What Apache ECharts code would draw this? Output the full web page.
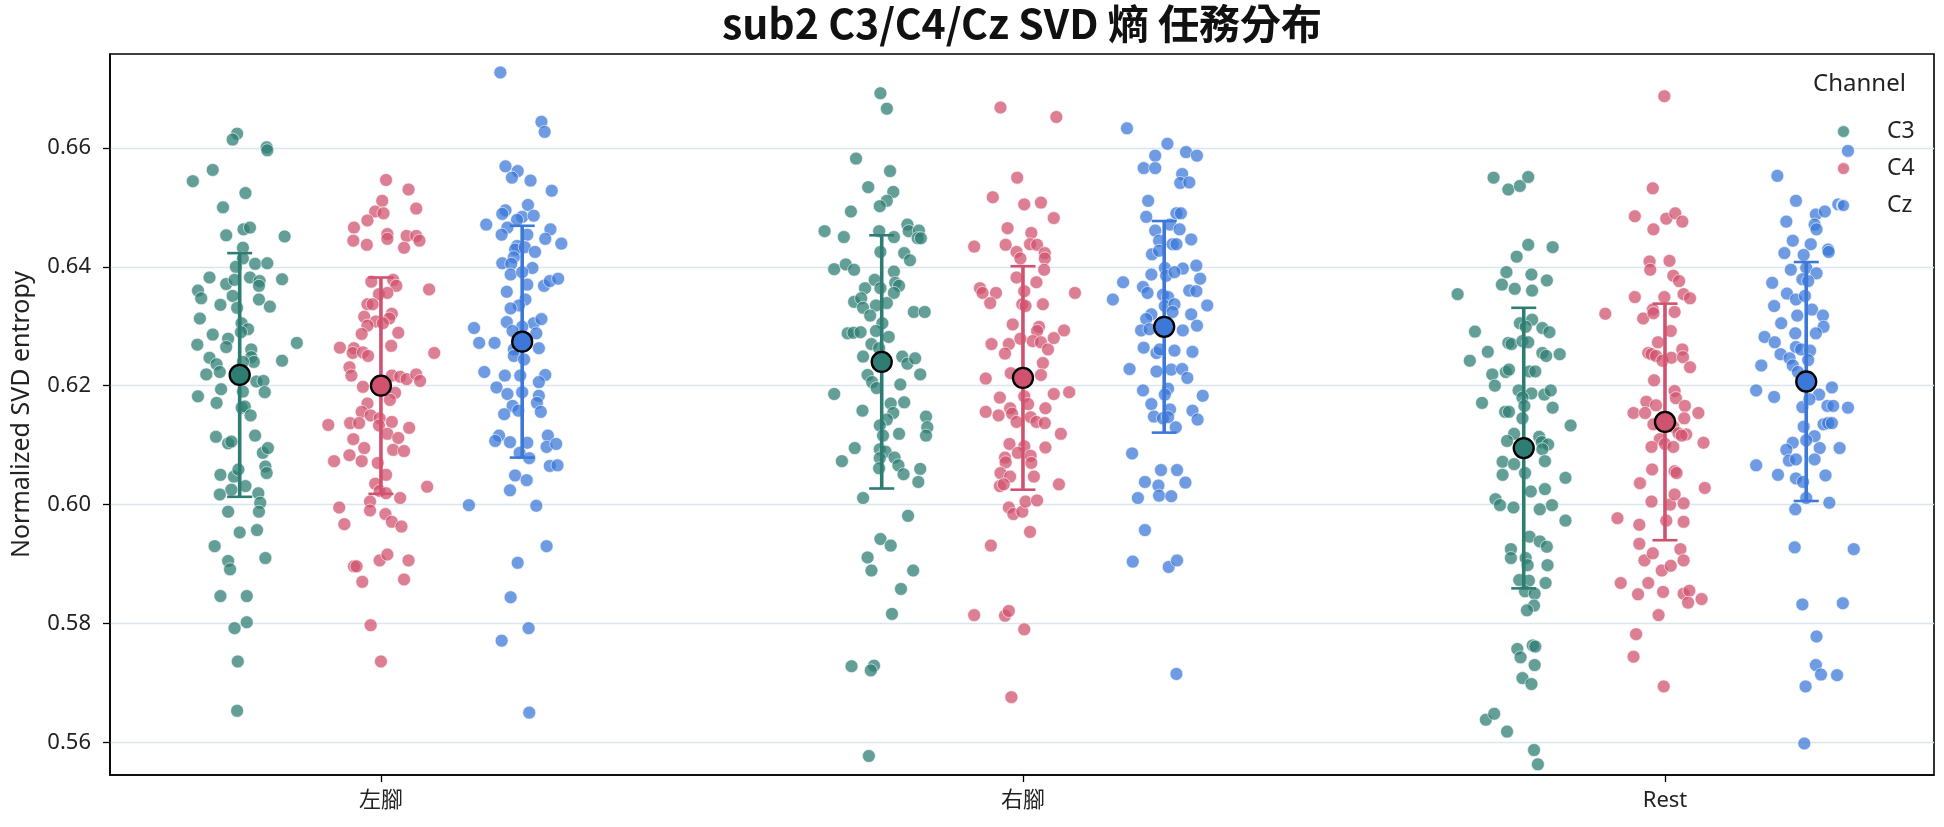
<!DOCTYPE html>
<html>
<head>
<meta charset="utf-8">
<script src="https://cdn.jsdelivr.net/npm/echarts@6.0.0/dist/echarts.min.js"></script>
<style>
  html, body { margin: 0; padding: 0; background: #fff; }
  #chart { width: 1944px; height: 827px; }
</style>
</head>
<body>
<div id="chart"></div>
<script>
// categories / channels
var categories = ['左腳', '右腳', 'Rest'];
var channels = ['C3', 'C4', 'Cz'];
var yTicks = [0.56, 0.58, 0.60, 0.62, 0.64, 0.66];

// strip points: [jitter, value]
var leftC3 = [[-0.004,0.6624],[-0.011,0.6614],[0.042,0.6601],[0.043,0.6596],[-0.042,0.6563],[-0.073,0.6544],[0.009,0.6524],[-0.026,0.6500],[-0.021,0.6453],[0.006,0.6463],[0.016,0.6466],[0.070,0.6451],[0.005,0.6432],[0.005,0.6414],[0.024,0.6405],[0.043,0.6406],[-0.006,0.6400],[-0.047,0.6382],[0.016,0.6382],[0.031,0.6376],[0.066,0.6379],[-0.065,0.6360],[-0.060,0.6347],[-0.021,0.6371],[-0.008,0.6378],[0.030,0.6368],[-0.011,0.6351],[0.030,0.6345],[-0.030,0.6336],[-0.004,0.6331],[0.047,0.6333],[-0.062,0.6313],[0.003,0.6305],[0.013,0.6295],[0.002,0.6290],[-0.042,0.6286],[-0.018,0.6279],[-0.066,0.6269],[-0.021,0.6265],[0.018,0.6261],[0.089,0.6272],[-0.047,0.6247],[-0.036,0.6236],[-0.031,0.6223],[-0.052,0.6219],[0.018,0.6248],[0.022,0.6240],[0.005,0.6240],[0.066,0.6242],[0.026,0.6207],[0.037,0.6208],[-0.029,0.6194],[-0.065,0.6182],[-0.036,0.6171],[0.039,0.6189],[0.005,0.6190],[0.003,0.6163],[0.008,0.6165],[0.017,0.6150],[-0.037,0.6114],[-0.018,0.6103],[-0.013,0.6106],[0.024,0.6116],[0.036,0.6087],[0.044,0.6095],[0.040,0.6064],[0.042,0.6053],[-0.030,0.6050],[-0.009,0.6047],[-0.002,0.6059],[0.009,0.6031],[-0.013,0.6025],[-0.031,0.6017],[0.029,0.6019],[0.032,0.6003],[-0.018,0.5988],[0.030,0.5988],[0.000,0.5953],[0.027,0.5957],[-0.039,0.5930],[-0.018,0.5905],[-0.015,0.5891],[0.040,0.5910],[-0.030,0.5846],[0.011,0.5846],[-0.008,0.5792],[0.011,0.5802],[-0.003,0.5736],[-0.004,0.5653]];
var leftC4 = [[0.008,0.6546],[0.043,0.6530],[0.055,0.6498],[0.002,0.6511],[-0.009,0.6493],[0.004,0.6490],[-0.021,0.6478],[-0.042,0.6466],[-0.043,0.6444],[-0.022,0.6437],[0.010,0.6455],[0.010,0.6447],[0.040,0.6452],[0.055,0.6452],[0.060,0.6444],[0.036,0.6432],[-0.015,0.6375],[0.019,0.6378],[0.024,0.6368],[0.075,0.6362],[-0.003,0.6354],[0.010,0.6356],[-0.021,0.6337],[-0.013,0.6337],[-0.026,0.6316],[0.017,0.6321],[0.013,0.6313],[-0.008,0.6308],[-0.021,0.6301],[0.003,0.6305],[-0.030,0.6287],[0.027,0.6289],[-0.064,0.6264],[-0.042,0.6263],[-0.044,0.6255],[-0.028,0.6256],[-0.020,0.6250],[0.016,0.6267],[0.083,0.6255],[-0.049,0.6231],[-0.046,0.6217],[0.017,0.6217],[0.030,0.6215],[0.040,0.6211],[0.055,0.6219],[0.061,0.6208],[-0.028,0.6198],[0.022,0.6188],[0.014,0.6176],[-0.021,0.6170],[-0.030,0.6156],[-0.016,0.6150],[-0.002,0.6145],[0.017,0.6139],[-0.082,0.6134],[-0.048,0.6137],[-0.034,0.6137],[-0.003,0.6133],[0.010,0.6119],[0.044,0.6129],[-0.043,0.6110],[0.027,0.6112],[-0.026,0.6095],[0.019,0.6092],[0.036,0.6090],[-0.049,0.6083],[-0.073,0.6073],[-0.030,0.6073],[-0.005,0.6070],[0.008,0.6050],[-0.009,0.6035],[-0.002,0.6023],[0.008,0.6019],[0.072,0.6030],[-0.017,0.6005],[0.030,0.6011],[-0.065,0.5995],[-0.017,0.5990],[0.007,0.5984],[0.017,0.5971],[0.032,0.5963],[-0.057,0.5967],[-0.002,0.5906],[0.010,0.5916],[0.043,0.5906],[-0.042,0.5896],[-0.038,0.5896],[-0.029,0.5870],[0.036,0.5874],[-0.016,0.5797],[0.000,0.5736]];
var leftCz = [[-0.034,0.6727],[0.030,0.6644],[0.035,0.6627],[-0.026,0.6569],[-0.007,0.6561],[-0.016,0.6550],[0.013,0.6545],[0.046,0.6528],[0.009,0.6504],[-0.026,0.6495],[-0.031,0.6489],[0.000,0.6484],[0.018,0.6486],[-0.008,0.6479],[-0.056,0.6471],[-0.023,0.6466],[-0.032,0.6454],[0.008,0.6454],[0.044,0.6463],[0.036,0.6447],[0.061,0.6439],[-0.008,0.6435],[-0.011,0.6429],[0.004,0.6433],[0.020,0.6425],[-0.013,0.6416],[-0.031,0.6406],[-0.017,0.6405],[0.016,0.6398],[-0.018,0.6387],[0.000,0.6391],[0.008,0.6370],[0.034,0.6368],[0.043,0.6376],[0.056,0.6380],[-0.024,0.6358],[0.005,0.6345],[-0.005,0.6335],[-0.018,0.6330],[-0.024,0.6307],[0.018,0.6305],[0.030,0.6312],[0.000,0.6299],[-0.075,0.6297],[-0.015,0.6292],[0.022,0.6288],[-0.067,0.6272],[-0.043,0.6272],[0.026,0.6263],[-0.013,0.6261],[-0.013,0.6250],[0.003,0.6244],[-0.059,0.6223],[-0.027,0.6217],[-0.003,0.6217],[0.036,0.6218],[-0.040,0.6197],[0.026,0.6206],[-0.023,0.6186],[0.000,0.6189],[0.026,0.6183],[0.023,0.6171],[-0.015,0.6166],[-0.006,0.6158],[-0.028,0.6152],[0.029,0.6156],[-0.036,0.6116],[-0.042,0.6107],[-0.019,0.6105],[0.008,0.6104],[0.040,0.6116],[0.038,0.6097],[0.053,0.6102],[-0.004,0.6087],[0.011,0.6078],[0.043,0.6065],[0.055,0.6066],[-0.011,0.6049],[0.007,0.6041],[-0.019,0.6024],[-0.083,0.5999],[0.022,0.5998],[0.038,0.5930],[-0.007,0.5902],[-0.018,0.5844],[0.010,0.5792],[-0.032,0.5771],[0.011,0.5650]];
var rightC3 = [[-0.002,0.6692],[0.008,0.6666],[-0.040,0.6582],[0.013,0.6561],[-0.021,0.6534],[0.018,0.6526],[0.008,0.6511],[-0.003,0.6502],[-0.048,0.6493],[-0.089,0.6460],[-0.059,0.6450],[-0.004,0.6460],[0.019,0.6450],[0.040,0.6471],[0.042,0.6460],[0.058,0.6461],[0.056,0.6448],[0.061,0.6448],[0.035,0.6423],[0.044,0.6411],[-0.002,0.6425],[-0.074,0.6396],[-0.056,0.6404],[-0.043,0.6395],[0.019,0.6392],[-0.011,0.6378],[0.021,0.6373],[-0.026,0.6364],[-0.002,0.6364],[0.027,0.6368],[0.019,0.6356],[-0.043,0.6341],[-0.032,0.6347],[-0.029,0.6331],[-0.009,0.6335],[0.008,0.6339],[-0.018,0.6318],[0.050,0.6324],[0.067,0.6324],[0.001,0.6305],[-0.053,0.6288],[-0.044,0.6289],[-0.033,0.6290],[0.011,0.6282],[-0.009,0.6292],[-0.016,0.6270],[-0.004,0.6263],[-0.029,0.6249],[0.032,0.6249],[0.040,0.6237],[0.052,0.6246],[0.060,0.6219],[-0.022,0.6218],[-0.015,0.6206],[-0.008,0.6196],[0.029,0.6202],[-0.074,0.6186],[0.014,0.6170],[0.035,0.6172],[-0.030,0.6158],[0.018,0.6154],[0.008,0.6143],[-0.003,0.6133],[0.002,0.6116],[0.069,0.6148],[0.071,0.6130],[0.069,0.6116],[0.027,0.6119],[-0.042,0.6095],[-0.062,0.6073],[-0.003,0.6093],[0.006,0.6089],[-0.003,0.6078],[0.020,0.6079],[0.026,0.6066],[-0.004,0.6061],[0.034,0.6051],[0.060,0.6060],[0.057,0.6038],[-0.029,0.6011],[0.041,0.5981],[-0.002,0.5942],[0.014,0.5931],[-0.022,0.5911],[-0.016,0.5889],[0.049,0.5889],[0.030,0.5858],[0.016,0.5816],[-0.047,0.5728],[-0.012,0.5729],[-0.017,0.5721],[-0.020,0.5577]];
var rightC4 = [[-0.035,0.6668],[0.052,0.6652],[-0.009,0.6550],[-0.047,0.6517],[0.002,0.6505],[0.028,0.6508],[0.048,0.6482],[-0.024,0.6465],[0.013,0.6457],[-0.076,0.6434],[-0.027,0.6437],[0.011,0.6438],[0.022,0.6437],[0.034,0.6423],[0.034,0.6414],[-0.010,0.6425],[-0.004,0.6414],[0.033,0.6395],[-0.010,0.6382],[0.021,0.6374],[-0.067,0.6364],[-0.063,0.6356],[-0.042,0.6356],[-0.051,0.6339],[0.002,0.6359],[-0.001,0.6337],[0.004,0.6334],[0.031,0.6337],[0.081,0.6356],[-0.016,0.6303],[0.025,0.6299],[0.022,0.6292],[0.015,0.6275],[0.028,0.6273],[0.039,0.6261],[0.048,0.6280],[0.064,0.6293],[-0.049,0.6270],[-0.022,0.6270],[-0.004,0.6279],[-0.028,0.6254],[0.031,0.6238],[-0.058,0.6212],[-0.019,0.6221],[0.028,0.6218],[0.048,0.6186],[0.072,0.6189],[-0.036,0.6180],[0.002,0.6182],[0.008,0.6169],[-0.058,0.6156],[-0.038,0.6150],[-0.020,0.6162],[-0.017,0.6153],[-0.010,0.6139],[0.012,0.6147],[0.021,0.6139],[0.034,0.6137],[0.035,0.6162],[0.059,0.6119],[-0.021,0.6102],[0.002,0.6098],[0.012,0.6082],[0.035,0.6096],[-0.028,0.6079],[-0.027,0.6071],[0.013,0.6070],[-0.008,0.6087],[-0.035,0.6053],[-0.020,0.6047],[0.017,0.6047],[-0.036,0.6031],[-0.030,0.6034],[0.056,0.6034],[-0.022,0.5995],[-0.015,0.5984],[-0.001,0.5988],[0.004,0.6005],[0.022,0.6007],[0.011,0.5954],[-0.050,0.5931],[-0.076,0.5814],[-0.028,0.5813],[-0.022,0.5821],[0.002,0.5790],[-0.018,0.5676]];
var rightCz = [[-0.058,0.6633],[0.005,0.6607],[0.034,0.6593],[0.051,0.6587],[-0.014,0.6587],[-0.032,0.6566],[-0.014,0.6566],[0.028,0.6556],[0.025,0.6541],[0.039,0.6542],[-0.025,0.6511],[-0.028,0.6484],[0.019,0.6490],[0.026,0.6490],[0.009,0.6471],[-0.014,0.6461],[0.024,0.6463],[0.042,0.6446],[-0.008,0.6444],[0.013,0.6438],[0.019,0.6438],[-0.019,0.6421],[-0.008,0.6427],[0.050,0.6402],[0.029,0.6397],[0.001,0.6398],[-0.020,0.6387],[0.003,0.6385],[0.016,0.6391],[0.056,0.6380],[-0.064,0.6374],[-0.033,0.6366],[-0.026,0.6356],[0.039,0.6360],[0.050,0.6359],[-0.080,0.6345],[-0.002,0.6353],[0.006,0.6349],[0.001,0.6334],[0.016,0.6337],[0.013,0.6324],[0.067,0.6335],[0.042,0.6320],[-0.020,0.6320],[-0.028,0.6312],[-0.036,0.6293],[-0.023,0.6295],[0.029,0.6293],[0.051,0.6301],[-0.032,0.6264],[-0.012,0.6255],[-0.007,0.6261],[0.016,0.6259],[0.044,0.6257],[-0.054,0.6228],[-0.012,0.6224],[0.011,0.6227],[0.028,0.6228],[0.036,0.6213],[-0.033,0.6192],[0.006,0.6195],[0.001,0.6185],[-0.020,0.6169],[0.009,0.6160],[0.060,0.6183],[0.044,0.6158],[0.052,0.6143],[-0.016,0.6148],[-0.002,0.6145],[0.006,0.6147],[0.018,0.6130],[-0.050,0.6086],[-0.005,0.6058],[0.020,0.6058],[-0.030,0.6038],[0.033,0.6037],[-0.009,0.6032],[-0.041,0.6011],[-0.008,0.6015],[0.011,0.6014],[-0.030,0.5957],[-0.049,0.5904],[0.007,0.5895],[0.020,0.5906],[0.019,0.5715]];
var restC3 = [[-0.047,0.6550],[-0.024,0.6530],[-0.006,0.6536],[0.007,0.6551],[0.007,0.6437],[0.045,0.6433],[-0.011,0.6417],[-0.027,0.6391],[0.012,0.6387],[-0.034,0.6370],[-0.014,0.6363],[0.013,0.6360],[0.036,0.6377],[-0.103,0.6354],[-0.006,0.6305],[0.013,0.6311],[0.003,0.6299],[0.029,0.6297],[0.040,0.6290],[-0.076,0.6291],[-0.024,0.6272],[-0.019,0.6270],[-0.002,0.6275],[0.007,0.6273],[-0.056,0.6257],[0.029,0.6255],[0.035,0.6250],[0.056,0.6253],[-0.084,0.6242],[-0.049,0.6219],[-0.028,0.6223],[-0.023,0.6227],[0.009,0.6224],[0.018,0.6224],[-0.045,0.6200],[-0.008,0.6192],[0.012,0.6187],[0.032,0.6185],[0.042,0.6192],[-0.002,0.6180],[-0.065,0.6171],[-0.029,0.6156],[-0.023,0.6156],[0.001,0.6166],[0.045,0.6163],[-0.002,0.6145],[0.073,0.6133],[-0.015,0.6119],[-0.026,0.6107],[0.024,0.6114],[0.028,0.6105],[0.038,0.6101],[0.029,0.6093],[0.033,0.6073],[-0.033,0.6072],[-0.015,0.6068],[-0.033,0.6050],[0.002,0.6053],[0.065,0.6045],[0.011,0.6022],[0.033,0.6026],[-0.044,0.6009],[-0.037,0.5999],[-0.016,0.5995],[0.025,0.5992],[0.044,0.5999],[0.065,0.5973],[0.009,0.5946],[0.025,0.5938],[0.036,0.5929],[-0.020,0.5925],[-0.020,0.5910],[0.003,0.5910],[0.006,0.5898],[0.037,0.5898],[-0.007,0.5873],[0.008,0.5872],[0.034,0.5868],[0.002,0.5854],[0.017,0.5850],[0.016,0.5830],[0.005,0.5822],[-0.010,0.5757],[0.014,0.5763],[0.018,0.5761],[-0.005,0.5743],[0.017,0.5730],[-0.002,0.5708],[0.012,0.5698],[-0.059,0.5638],[-0.046,0.5648],[-0.026,0.5618],[0.016,0.5587],[0.022,0.5563]];
var restC4 = [[-0.001,0.6687],[-0.019,0.6532],[-0.047,0.6485],[0.002,0.6481],[0.016,0.6490],[0.027,0.6476],[-0.018,0.6463],[-0.024,0.6409],[-0.023,0.6395],[0.007,0.6410],[0.013,0.6385],[0.022,0.6376],[-0.047,0.6349],[-0.001,0.6349],[0.029,0.6354],[0.039,0.6347],[-0.093,0.6321],[-0.034,0.6313],[-0.019,0.6328],[-0.018,0.6322],[0.015,0.6324],[0.009,0.6292],[-0.011,0.6273],[-0.026,0.6255],[-0.021,0.6253],[-0.014,0.6250],[-0.004,0.6242],[0.010,0.6247],[0.027,0.6261],[0.028,0.6248],[0.039,0.6231],[-0.017,0.6209],[0.015,0.6191],[-0.029,0.6173],[0.017,0.6179],[0.031,0.6166],[-0.049,0.6154],[-0.031,0.6154],[-0.014,0.6167],[0.052,0.6154],[0.030,0.6145],[-0.018,0.6135],[-0.003,0.6135],[0.013,0.6131],[0.021,0.6120],[0.033,0.6118],[0.026,0.6116],[-0.008,0.6110],[-0.021,0.6097],[0.000,0.6102],[0.013,0.6097],[0.060,0.6104],[-0.020,0.6059],[0.015,0.6056],[0.018,0.6053],[-0.039,0.6036],[-0.021,0.6005],[0.008,0.6000],[0.015,0.6017],[0.029,0.6002],[0.062,0.6028],[-0.074,0.5977],[-0.040,0.5966],[0.002,0.5973],[0.029,0.5971],[-0.040,0.5934],[-0.032,0.5906],[-0.019,0.5918],[0.024,0.5925],[0.029,0.5906],[-0.005,0.5889],[0.009,0.5897],[-0.069,0.5868],[-0.042,0.5849],[-0.026,0.5868],[-0.003,0.5853],[0.029,0.5850],[0.038,0.5855],[0.036,0.5835],[0.057,0.5841],[-0.010,0.5814],[-0.045,0.5782],[-0.049,0.5744],[-0.002,0.5694]];
var restCz = [[0.065,0.6595],[-0.045,0.6553],[-0.016,0.6511],[0.050,0.6505],[-0.031,0.6476],[0.015,0.6488],[0.029,0.6493],[0.013,0.6471],[0.016,0.6463],[-0.021,0.6444],[0.007,0.6438],[0.034,0.6429],[0.035,0.6425],[-0.034,0.6423],[-0.004,0.6420],[-0.024,0.6395],[0.000,0.6398],[0.016,0.6389],[-0.006,0.6379],[0.003,0.6376],[-0.053,0.6373],[-0.030,0.6355],[-0.016,0.6345],[-0.002,0.6351],[-0.050,0.6334],[0.009,0.6328],[-0.014,0.6318],[0.026,0.6318],[0.027,0.6299],[-0.039,0.6305],[-0.017,0.6288],[0.015,0.6288],[-0.065,0.6282],[-0.049,0.6273],[-0.016,0.6265],[-0.008,0.6261],[0.006,0.6259],[-0.040,0.6253],[-0.026,0.6246],[0.003,0.6243],[-0.021,0.6234],[-0.070,0.6234],[-0.013,0.6223],[-0.078,0.6192],[-0.050,0.6181],[0.040,0.6197],[0.020,0.6185],[-0.006,0.6164],[0.005,0.6177],[0.033,0.6166],[0.042,0.6166],[0.065,0.6163],[-0.004,0.6131],[0.027,0.6135],[0.034,0.6137],[0.040,0.6137],[0.013,0.6115],[-0.021,0.6104],[0.000,0.6108],[0.021,0.6095],[0.052,0.6095],[-0.031,0.6092],[-0.027,0.6074],[-0.016,0.6076],[0.013,0.6076],[-0.078,0.6066],[-0.044,0.6050],[-0.016,0.6044],[-0.005,0.6038],[0.030,0.6049],[0.000,0.6011],[0.036,0.6003],[-0.017,0.5992],[-0.018,0.5928],[0.074,0.5925],[-0.006,0.5832],[0.057,0.5834],[0.016,0.5778],[0.015,0.5730],[0.023,0.5714],[0.048,0.5713],[-0.001,0.5694],[-0.003,0.5598]];

// mean and sd per channel, in category order
var meanC3 = [0.6218, 0.6240, 0.6095];
var meanC4 = [0.6200, 0.6213, 0.6139];
var meanCz = [0.6274, 0.6299, 0.6207];
var sdC3 = [0.0205, 0.0213, 0.0236];
var sdC4 = [0.0182, 0.0188, 0.0199];
var sdCz = [0.0195, 0.0178, 0.0201];

var points = { C3: [leftC3, rightC3, restC3], C4: [leftC4, rightC4, restC4], Cz: [leftCz, rightCz, restCz] };
var means = { C3: meanC3, C4: meanC4, Cz: meanCz };
var sds = { C3: sdC3, C4: sdC4, Cz: sdCz };

var pointColor = { C3: '#2e7d73', C4: '#d1526f', Cz: '#3b78d8' };
var dodge = { C3: -0.22, C4: 0, Cz: 0.22 };
var font = '"Noto Sans", "Noto Sans CJK TC", sans-serif';

var chart = echarts.init(document.getElementById('chart'), null, { renderer: 'canvas' });

var series = [];
channels.forEach(function (ch) {
  var d = [];
  points[ch].forEach(function (grp, ci) {
    grp.forEach(function (p) { d.push([ci + dodge[ch] + p[0], p[1]]); });
  });
  series.push({
    name: ch,
    type: 'scatter',
    data: d,
    symbolSize: 13,
    z: 3,
    itemStyle: { color: pointColor[ch], opacity: 0.74, borderColor: '#ffffff', borderWidth: 0.8 },
    emphasis: { disabled: true }
  });
});

channels.forEach(function (ch) {
  var col = pointColor[ch];
  var ed = categories.map(function (c, ci) {
    return [ci + dodge[ch], means[ch][ci] - sds[ch][ci], means[ch][ci] + sds[ch][ci]];
  });
  series.push({
    name: ch + ' sd',
    type: 'custom',
    z: 5,
    silent: true,
    data: ed,
    encode: { x: 0, y: [1, 2] },
    renderItem: function (params, api) {
      var x = api.value(0);
      var top = api.coord([x, api.value(2)]);
      var bot = api.coord([x, api.value(1)]);
      var cap = 12.5;
      return {
        type: 'group',
        children: [
          { type: 'line', shape: { x1: top[0], y1: top[1], x2: bot[0], y2: bot[1] }, style: { stroke: col, lineWidth: 3.6 } },
          { type: 'line', shape: { x1: top[0] - cap, y1: top[1], x2: top[0] + cap, y2: top[1] }, style: { stroke: col, lineWidth: 2.6 } },
          { type: 'line', shape: { x1: bot[0] - cap, y1: bot[1], x2: bot[0] + cap, y2: bot[1] }, style: { stroke: col, lineWidth: 2.6 } }
        ]
      };
    }
  });
  series.push({
    name: ch + ' mean',
    type: 'scatter',
    z: 6,
    silent: true,
    symbolSize: 20,
    data: categories.map(function (c, ci) { return [ci + dodge[ch], means[ch][ci]]; }),
    itemStyle: { color: col, borderColor: '#000000', borderWidth: 2.3, opacity: 1 }
  });
});

var option = {
  animation: false,
  backgroundColor: '#ffffff',
  title: [
    {
      text: 'sub2 C3/C4/Cz SVD 熵 任務分布',
      left: 1022, top: 3, textAlign: 'center', padding: 0,
      textStyle: { fontFamily: '"Noto Sans CJK TC", sans-serif', fontSize: 41, fontWeight: 'bold', color: '#111' }
    },
    {
      text: 'Channel',
      left: 1813, top: 72, padding: 0,
      textStyle: { fontFamily: font, fontSize: 24, fontWeight: 'normal', color: '#222' }
    }
  ],
  legend: {
    data: channels,
    orient: 'vertical',
    left: 1831, top: 115,
    itemWidth: 13, itemHeight: 13, itemGap: 14,
    icon: 'circle',
    textStyle: { fontFamily: font, fontSize: 23, color: '#222', padding: [0, 0, 0, 32] }
  },
  grid: {
    left: 110, right: 10, top: 54, bottom: 52,
    show: true, borderColor: '#000', borderWidth: 1.6, backgroundColor: 'transparent'
  },
  xAxis: {
    type: 'value', min: -0.422, max: 2.419,
    axisLine: { show: true, onZero: false, lineStyle: { color: '#000', width: 1.6 } },
    axisTick: { show: true, length: 7, lineStyle: { color: '#000', width: 1.3 }, customValues: [0, 1, 2] },
    axisLabel: {
      customValues: [0, 1, 2], margin: 15,
      formatter: function (v) { return categories[Math.round(v)]; },
      fontFamily: font, fontSize: 22, color: '#222'
    },
    splitLine: { show: false }
  },
  yAxis: {
    type: 'value', min: 0.5545, max: 0.6758,
    name: 'Normalized SVD entropy', nameLocation: 'middle', nameGap: 76, nameRotate: 90,
    nameTextStyle: { fontFamily: font, fontSize: 25, color: '#222' },
    axisLine: { show: true, onZero: false, lineStyle: { color: '#000', width: 1.6 } },
    axisTick: { show: true, length: 7, lineStyle: { color: '#000', width: 1.3 }, customValues: yTicks },
    axisLabel: {
      customValues: yTicks, margin: 19,
      formatter: function (v) { return v.toFixed(2); },
      fontFamily: font, fontSize: 22, color: '#222'
    },
    splitLine: { show: true, lineStyle: { color: '#dbe5ee', width: 1.3 } }
  },
  series: series
};

chart.setOption(option);
window.addEventListener('resize', function () { chart.resize(); });
</script>
</body>
</html>
